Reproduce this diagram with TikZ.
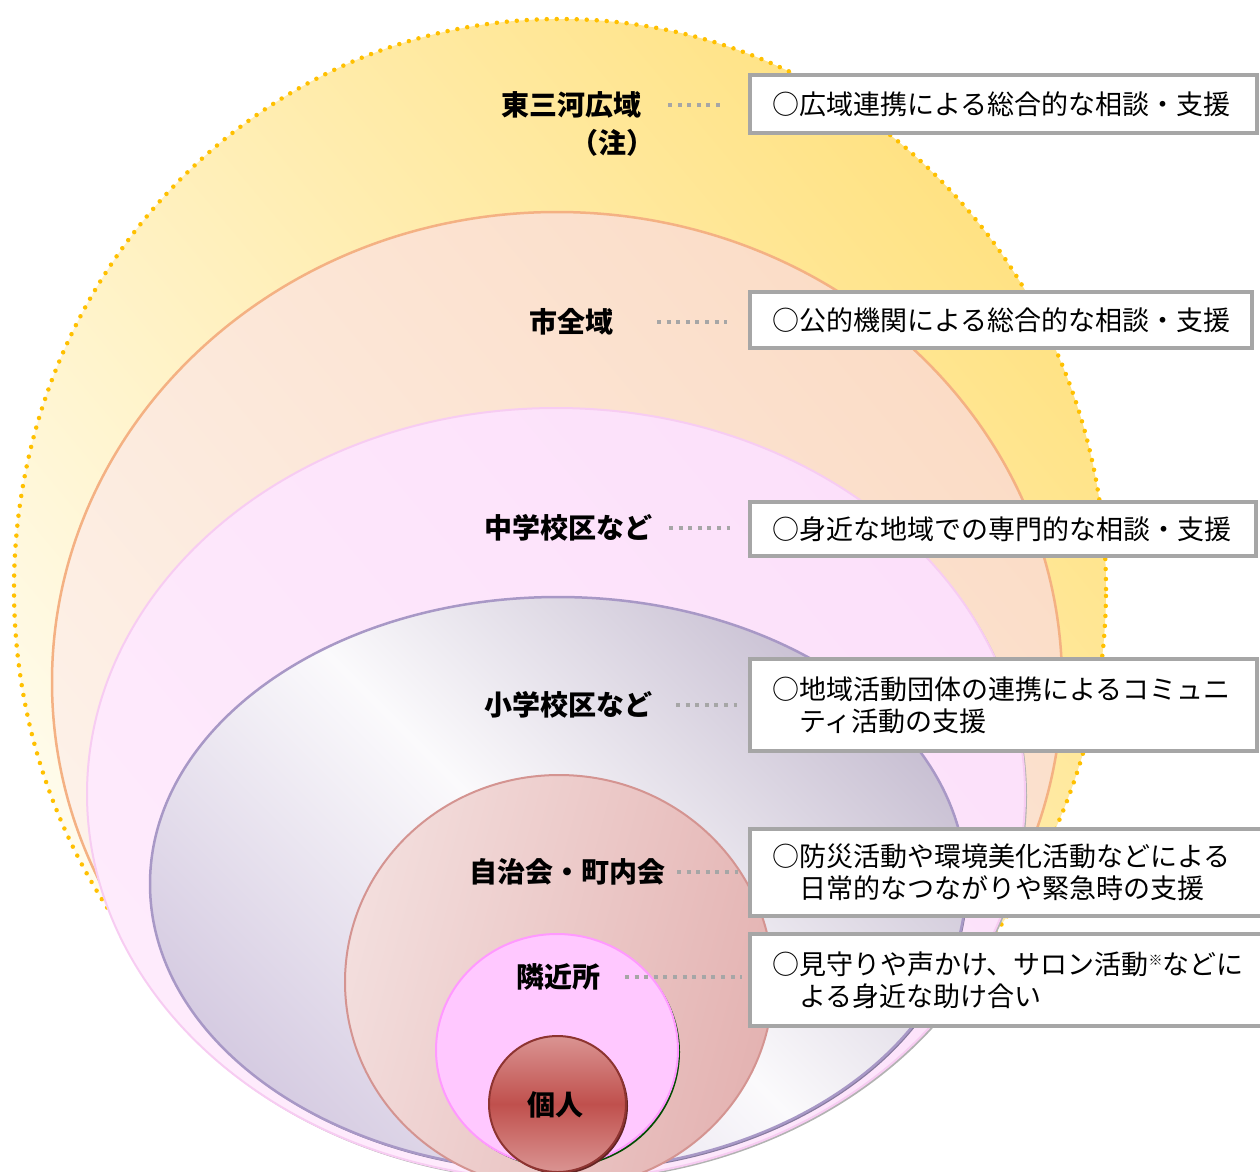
\documentclass[tikz,border=0pt]{standalone}
\usepackage{fontspec}
\setmainfont{Noto Sans CJK JP}
\usetikzlibrary{shapes.geometric}
\definecolor{dotY}{HTML}{FFC000}
\definecolor{yelA}{HTML}{FFFCEE}
\definecolor{yelB}{HTML}{FFE283}
\definecolor{peA}{HTML}{FDF2EA}
\definecolor{peB}{HTML}{FBDCC6}
\definecolor{peE}{HTML}{F4B183}
\definecolor{piA}{HTML}{FEEBFC}
\definecolor{piB}{HTML}{FCE0FA}
\definecolor{piE}{HTML}{F7CCF2}
\definecolor{laA}{HTML}{D6CCE2}
\definecolor{laM}{HTML}{FBFAFC}
\definecolor{laE}{HTML}{A898C6}
\definecolor{roA}{HTML}{F3DEDD}
\definecolor{roB}{HTML}{E4B3B2}
\definecolor{roE}{HTML}{D49491}
\definecolor{neF}{HTML}{FFC8FF}
\definecolor{neE}{HTML}{FF99FF}
\definecolor{koT}{HTML}{DA9492}
\definecolor{koM}{HTML}{C0504D}
\definecolor{koE}{HTML}{8E3431}
\definecolor{boxG}{HTML}{A6A6A6}
\begin{document}
\begin{tikzpicture}[x=1pt,y=-1pt,
  ell/.style={ellipse,inner sep=0pt,outer sep=0pt},
  lab/.style={inner sep=0pt,outer sep=0pt,font=\fontsize{28}{30}\selectfont\bfseries},
  infobox/.style={draw=boxG,line width=4pt,fill=white,inner xsep=22pt,inner ysep=0pt,outer sep=0pt,align=left,font=\fontsize{27}{32}\selectfont},
  leader/.style={draw=boxG,line width=4pt,dash pattern=on 4pt off 5.6pt}
]
\useasboundingbox (0,0) rectangle (1260,1171);
\clip (0,0) rectangle (1260,1171);
% nested areas
\node[ell,minimum width=1092pt,minimum height=1140pt,bottom color=yelA,top color=yelB,shading angle=-50,
  draw=dotY,line width=4.5pt,dash pattern=on 0pt off 10pt,line cap=round] (eY) at (560,589) {};
\node[ell,minimum width=1010pt,minimum height=940pt,bottom color=peA,top color=peB,shading angle=-50,
  draw=peE,line width=2.5pt] (eP) at (557,682) {};
\node[ell,minimum width=938pt,minimum height=772pt,fill=gray!60] (ePs) at (558,796) {};
\node[ell,minimum width=938pt,minimum height=772pt,bottom color=piA,top color=piB,shading angle=-50,
  draw=piE,line width=2pt] (ePk) at (556,794) {};
\node[ell,minimum width=816pt,minimum height=574pt,fill=laE!80!black] (eLs) at (559.5,886) {};
\node[ell,minimum width=816pt,minimum height=574pt,bottom color=laA,top color=laA!85!gray,middle color=laM,shading angle=-45,
  draw=laE,line width=2.5pt] (eL) at (558,884) {};
\node[ell,minimum width=428pt,minimum height=414pt,bottom color=roB,top color=roA,shading angle=75,
  draw=roE,line width=2pt] (eR) at (559,982) {};
\node[ell,minimum width=242pt,minimum height=232pt,fill=green!30!black] (eNs) at (559,1052) {};
\node[ell,minimum width=242pt,minimum height=232pt,fill=neF,draw=neE,line width=2pt] (eN) at (557,1050) {};
\node[ell,minimum width=137pt,minimum height=136pt,fill=koE!70!black] (eKs) at (559.5,1106) {};
\node[ell,minimum width=137pt,minimum height=136pt,top color=koT,bottom color=koT,middle color=koM,
  draw=koE,line width=2pt] (eK) at (557.5,1104) {};
% labels
\node[lab] (l1) at (571,105) {東三河広域};
\node[lab] (l1b) at (612,143) {（注）};
\node[lab] (l2) at (571.5,322) {市全域};
\node[lab] (l3) at (568.5,528) {中学校区など};
\node[lab] (l4) at (568.5,705) {小学校区など};
\node[lab] (l5) at (567.5,872) {自治会・町内会};
\node[lab] (l6) at (558,977) {隣近所};
\node[lab] (l7) at (555,1105) {個人};
% boxes
\node[infobox,minimum width=507pt,minimum height=58pt,text width=463pt] (b1) at (1003.5,104)
  {○広域連携による総合的な相談・支援};
\node[infobox,minimum width=502pt,minimum height=56pt,text width=458pt] (b2) at (1001,320)
  {○公的機関による総合的な相談・支援};
\node[infobox,minimum width=506pt,minimum height=54pt,text width=462pt] (b3) at (1003,529)
  {○身近な地域での専門的な相談・支援};
\node[infobox,minimum width=507pt,minimum height=92pt,text width=463pt] (b4) at (1003.5,705)
  {○地域活動団体の連携によるコミュニ\\\hspace*{1em}ティ活動の支援};
\node[infobox,minimum width=512pt,minimum height=87pt,text width=468pt] (b5) at (1006,872.5)
  {○防災活動や環境美化活動などによる\\\hspace*{1em}日常的なつながりや緊急時の支援};
\node[infobox,minimum width=512pt,minimum height=92pt,text width=468pt] (b6) at (1006,980)
  {○見守りや声かけ、サロン活動\raisebox{9pt}{\fontsize{14}{14}\selectfont ※}などに\\\hspace*{1em}よる身近な助け合い};
% leaders
\draw[leader,shorten <=27pt,shorten >=30pt] (l1.east) -- (l1.east -| b1.west);
\draw[leader,shorten <=43.5pt,shorten >=23pt] (l2.east) -- (l2.east -| b2.west);
\draw[leader,shorten <=16.5pt,shorten >=20pt] (l3.east) -- (l3.east -| b3.west);
\draw[leader,shorten <=23.5pt,shorten >=13pt] (l4.east) -- (l4.east -| b4.west);
\draw[leader,shorten <=11.5pt,shorten >=12pt] (l5.east) -- (l5.east -| b5.west);
\draw[leader,shorten <=25pt,shorten >=8pt] (l6.east) -- (l6.east -| b6.west);
\end{tikzpicture}
\end{document}
